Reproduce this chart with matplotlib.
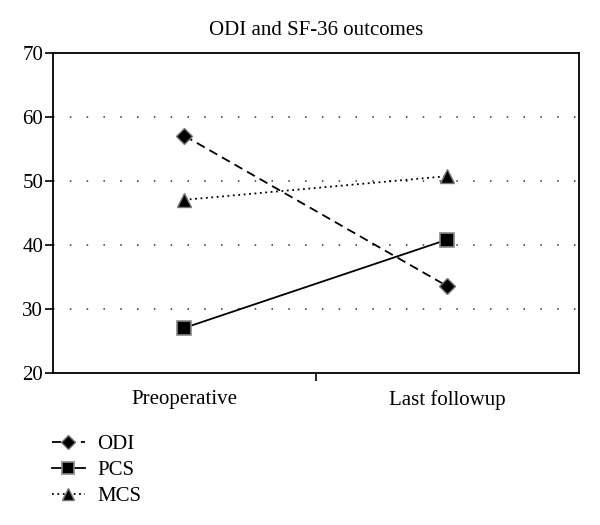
import matplotlib
matplotlib.use("Agg")
import matplotlib.pyplot as plt

categories = ["Preoperative", "Last followup"]
odi = [57.0, 33.5]
pcs = [27.0, 40.8]
mcs = [47.0, 50.7]
yticks = [20, 30, 40, 50, 60, 70]

plt.rcParams['font.family'] = ['Liberation Serif', 'DejaVu Serif']

fig = plt.figure(figsize=(6, 5.25), dpi=100)
ax = fig.add_axes([0.088, 0.29, 0.877, 0.61])

x = list(range(len(categories)))
for v in [30, 40, 50, 60]:
    ax.axhline(v, color='#333333', linestyle=(0, (1, 10)), linewidth=1.1, zorder=0)

ax.plot(x, odi, linestyle=(0, (5, 3)), color='black', linewidth=1.3, marker='D',
        markersize=8, markerfacecolor='black', markeredgecolor='#777777', markeredgewidth=1, label='ODI')
ax.plot(x, pcs, linestyle='-', color='black', linewidth=1.3, marker='s',
        markersize=10, markerfacecolor='black', markeredgecolor='#888888', markeredgewidth=1.2, label='PCS')
ax.plot(x, mcs, linestyle=(0, (1, 2)), color='black', linewidth=1.3, marker='^',
        markersize=10, markerfacecolor='black', markeredgecolor='#777777', markeredgewidth=1, label='MCS')

ax.set_xlim(-0.5, 1.5)
ax.set_ylim(20, 70)
ax.set_yticks(yticks)
ax.set_xticks([0.5])
ax.set_xticklabels([''])
ax.tick_params(axis='both', direction='out', length=6, width=1.2, labelsize=15, pad=2)
ax.tick_params(axis='y', pad=1)
for i, c in enumerate(categories):
    ax.text(i, -0.085, c, transform=ax.get_xaxis_transform(), ha='center', va='center', fontsize=15)
for s in ax.spines.values():
    s.set_linewidth(1.3)

fig.text(0.527, 0.941, "ODI and SF-36 outcomes", ha='center', va='center', fontsize=15)

handles, labels = ax.get_legend_handles_labels()
leg = fig.legend(handles, labels, loc='upper left', bbox_to_anchor=(0.072, 0.188), frameon=False,
                 fontsize=15, handlelength=1.6, handletextpad=0.6, labelspacing=0.3, borderaxespad=0,
                 markerscale=0.9)

fig.savefig("out.png", dpi=100)
